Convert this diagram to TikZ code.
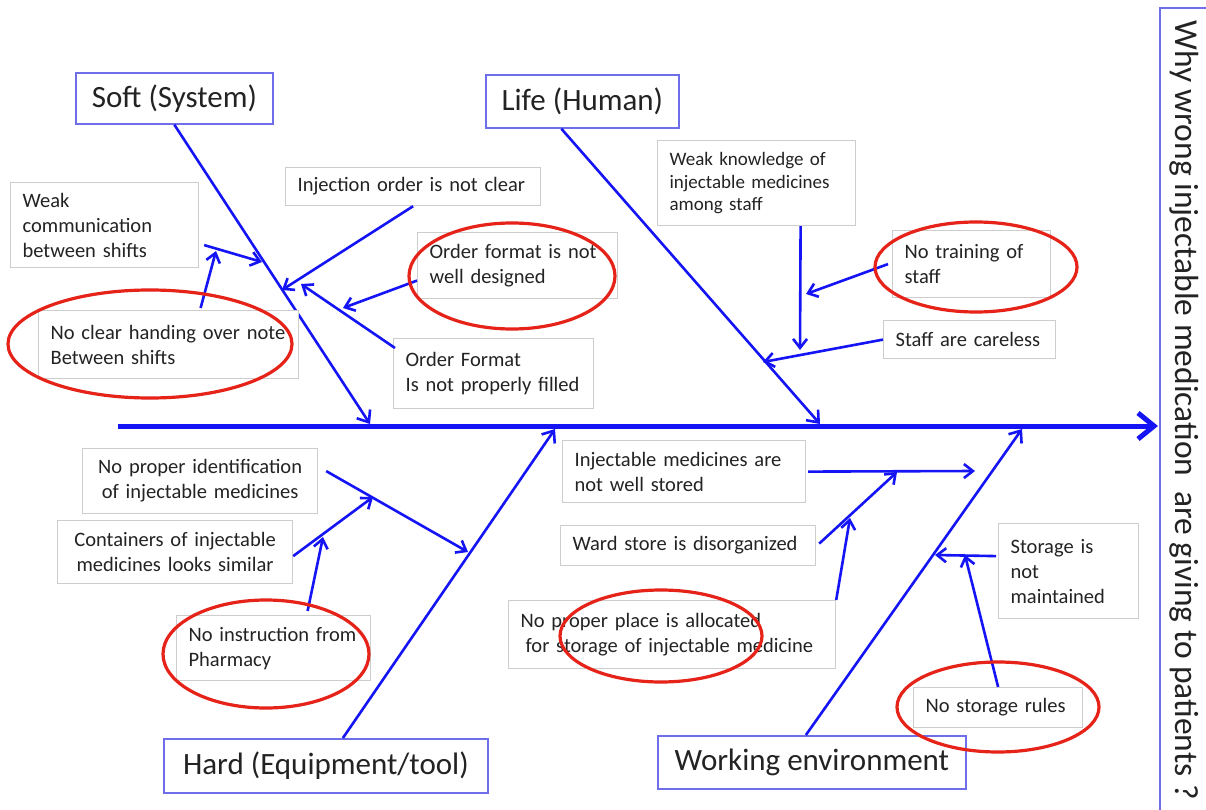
\documentclass[tikz,border=0pt]{standalone}
\usepackage{fontspec}
\setmainfont{Carlito}
\usetikzlibrary{arrows.meta,calc}
\definecolor{boneblue}{RGB}{20,20,245}
\definecolor{catframe}{RGB}{110,110,235}
\definecolor{subframe}{RGB}{205,205,205}
\definecolor{ringred}{RGB}{230,35,25}
\definecolor{inktext}{RGB}{35,35,35}
\hyphenpenalty=10000
\exhyphenpenalty=10000
\begin{document}
\begin{tikzpicture}[x=1pt,y=-1pt,
  cat/.style={draw=catframe, line width=1.8pt, fill=white, font=\fontsize{31}{36}\selectfont,
    text=inktext, inner sep=0pt, anchor=north west},
  cause/.style={draw=subframe, line width=1.2pt, fill=white, font=\fontsize{20.5}{25}\selectfont,
    text=inktext, inner xsep=12pt, inner ysep=0pt, anchor=north west, align=left},
  ring/.style={draw=ringred, line width=3.2pt},
  bone/.style={draw=boneblue, line width=2.6pt, -{Straight Barb[length=10pt,width=16pt]}},
  feed/.style={draw=boneblue, line width=2.6pt, -{Straight Barb[length=9pt,width=14pt]}},
  spine/.style={draw=boneblue, line width=5pt, -{Straight Barb[length=16pt,width=26pt]}},
]
\useasboundingbox (0,0) rectangle (1206,810);
\clip (0,0) rectangle (1206,810);
\fill[white] (0,0) rectangle (1206,810);

% effect box on the right edge
\draw[catframe, line width=1.8pt] (1220,8) -- (1160,8) -- (1160,820);
\node[rotate=-90, font=\fontsize{33.5}{38}\selectfont, text=inktext] (effect) at (1184,410)
  {Why wrong injectable medication\ \ are giving to patients ?};

% category boxes
\node[cat, minimum width=197pt, minimum height=51pt] (soft) at (75,72) {Soft (System)};
\node[cat, minimum width=193pt, minimum height=53pt] (life) at (485,74) {Life (Human)};
\node[cat, minimum width=324pt, minimum height=54pt] (hard) at (163,738) {Hard (Equipment/tool)};
\node[cat, minimum width=308pt, minimum height=53pt] (work) at (657,735) {Working environment};

% spine and bones
\coordinate (tail) at (118,426);
\coordinate (head) at (1158,426);
\coordinate (s-soft) at (370,424);
\coordinate (s-life) at (820,424);
\coordinate (s-hard) at (555,429);
\coordinate (s-work) at (1022,429);
\draw[spine] (tail) -- (head);
\draw[bone] (soft.south) -- (s-soft);
\draw[bone] ([xshift=-21pt]life.south) -- (s-life);
\draw[bone] ([xshift=17pt]hard.north) -- (s-hard);
\draw[bone] ([xshift=-6pt]work.north) -- (s-work);

% causes: soft
\node[cause, text width=164pt, minimum height=85pt] (wc) at (10,182) {Weak\\communication\\between~shifts};
\node[cause, text width=236pt, minimum height=68pt] (nc) at (38,310) {No~clear~handing~over~note\\Between~shifts};
\node[cause, text width=231pt, minimum height=38pt] (io) at (285,167) {Injection~order~is~not~clear};
\node[cause, text width=176pt, minimum height=66pt] (of) at (417,232) {Order~format~is~not\\well~designed};
\node[cause, text width=176pt, minimum height=70pt] (ofp) at (393,338) {Order~Format\\Is~not~properly~filled};

% causes: life
\node[cause, text width=174pt, minimum height=85pt, font=\fontsize{19}{22.5}\selectfont] (wk) at (657,140)
  {Weak~knowledge~of\\injectable~medicines\\among~staff};
\node[cause, text width=134pt, minimum height=67pt] (nt) at (892,230) {No~training~of\\staff};
\node[cause, text width=148pt, minimum height=38pt] (sc) at (883,320) {Staff~are~careless};

% causes: hard
\node[cause, text width=211pt, minimum height=65pt, align=center] (npi) at (82,448)
  {No~proper~identification\\of~injectable~medicines};
\node[cause, text width=211pt, minimum height=63pt, align=center] (con) at (57,520)
  {Containers~of~injectable\\medicines~looks~similar};
\node[cause, text width=170pt, minimum height=65pt] (nip) at (176,615) {No~instruction~from\\Pharmacy};

% causes: working environment
\node[cause, text width=219pt, minimum height=62pt] (ims) at (562,440) {Injectable~medicines~are\\not~well~stored};
\node[cause, text width=231pt, minimum height=40pt] (wsd) at (560,525) {Ward~store~is~disorganized};
\node[cause, text width=303pt, minimum height=68pt] (npp) at (508,600)
  {No~proper~place~is~allocated\\\hspace*{5pt}for~storage~of~injectable~medicine};
\node[cause, text width=116pt, minimum height=95pt] (snm) at (998,523) {Storage~is\\not\\maintained};
\node[cause, text width=145pt, minimum height=40pt] (nsr) at (913,687) {No~storage~rules};

% junction points on bones and feeder arrows
\coordinate (j-wc) at (262,262);
\coordinate (j-nc) at (216,251);
\coordinate (j-io) at (282,290);
\coordinate (j-of) at (343,308);
\coordinate (j-ofp) at (301,284);
\coordinate (j-wk) at (800,350);
\coordinate (j-nt) at (806,294);
\coordinate (j-sc) at (763,362);
\coordinate (j-npi) at (468,552);
\coordinate (j-con) at (373,497);
\coordinate (j-nip) at (323,537);
\coordinate (j-ims) at (975,471);
\coordinate (j-wsd) at (897,472);
\coordinate (j-npp) at (850,518);
\coordinate (j-snm) at (935,555);
\coordinate (j-nsr) at (965,555);

\draw[feed] ($(wc.east)+(5,20)$) -- (j-wc);
\draw[feed] ($(nc.north)+(32,-2)$) -- (j-nc);
\draw[feed] (io.south) -- (j-io);
\draw[feed] ($(of.west)+(0,15)$) -- (j-of);
\draw[feed] ($(ofp.north west)+(2,10)$) -- (j-ofp);
\draw[feed] ($(wk.south)+(44,0)$) -- (j-wk);
\draw[feed] ($(nt.west)+(-4,0)$) -- (j-nt);
\draw[feed] (sc.west) -- (j-sc);
\draw[feed] ($(npi.east)+(8,-10)$) -- (j-npi);
\draw[feed] ($(con.east)+(0,4)$) -- (j-con);
\draw[feed] ($(nip.north)+(34,-4)$) -- (j-nip);
\draw[feed] ($(ims.east)+(2,0)$) -- (j-ims);
\draw[feed] ($(wsd.east)+(3,-2)$) -- (j-wsd);
\draw[feed] (npp.north east) -- (j-npp);
\draw[feed] ($(snm.west)+(-2,-15)$) -- (j-snm);
\draw[feed] (nsr.north) -- (j-nsr);

% red rings around the key causes
\draw[ring] (150,344) ellipse [x radius=142, y radius=54];
\draw[ring] (512,276) ellipse [x radius=103, y radius=53];
\draw[ring] (976,267) ellipse [x radius=101, y radius=45];
\draw[ring] (266,654) ellipse [x radius=103, y radius=54];
\draw[ring] (661,636) ellipse [x radius=101, y radius=46];
\draw[ring] (998,707) ellipse [x radius=101, y radius=45];
\end{tikzpicture}
\end{document}
